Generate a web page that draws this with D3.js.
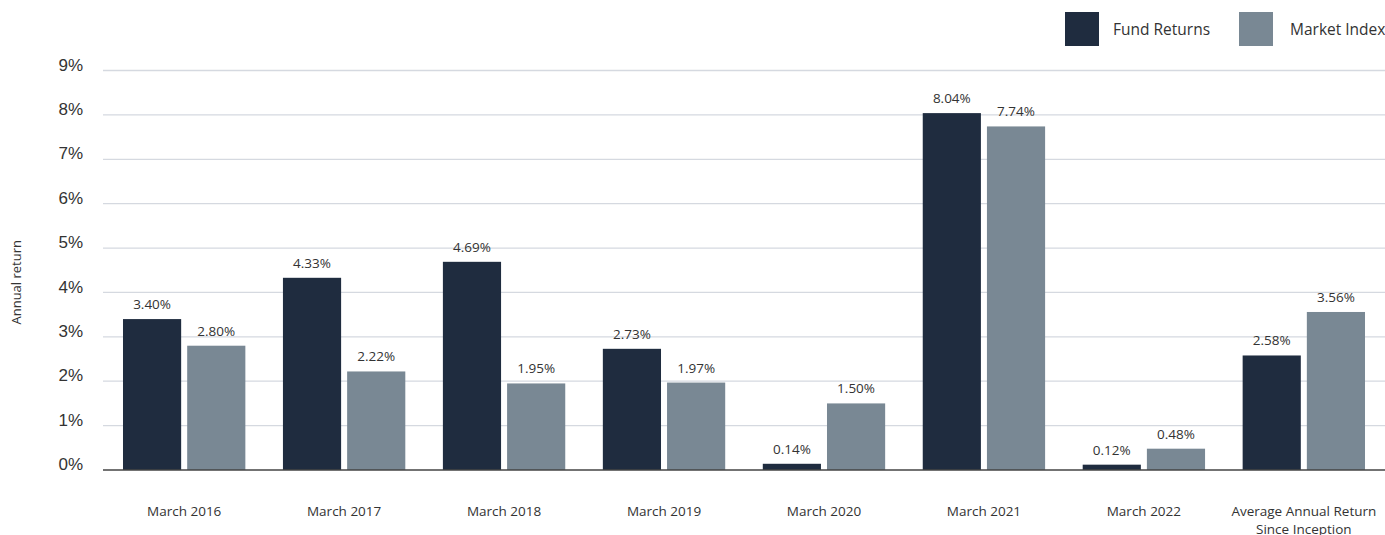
<!DOCTYPE html>
<html>
<head>
<meta charset="utf-8">
<script src="https://cdn.jsdelivr.net/npm/d3@7"></script>
<style>
  html, body { margin: 0; padding: 0; background: #fff; }
  svg { display: block; }
</style>
</head>
<body>
<script>
const categories = ["March 2016", "March 2017", "March 2018", "March 2019", "March 2020", "March 2021", "March 2022", "Average Annual Return|Since Inception"];
const seriesNames = ["Fund Returns", "Market Index"];
const fundReturns = [3.40, 4.33, 4.69, 2.73, 0.14, 8.04, 0.12, 2.58];
const marketIndex = [2.80, 2.22, 1.95, 1.97, 1.50, 7.74, 0.48, 3.56];
const yTicks = [0, 1, 2, 3, 4, 5, 6, 7, 8, 9];

const width = 1385;
const height = 535;
const marginTop = 70.5;
const marginRight = 0;
const marginBottom = 65;
const marginLeft = 103;

const data = categories.map((c, i) => ({ cat: c, values: [fundReturns[i], marketIndex[i]] }));

const x = d3.scaleBand()
    .domain(categories)
    .range([marginLeft, width - marginRight])
    .paddingInner(0.235)
    .paddingOuter(0.125);

const xSub = d3.scaleBand()
    .domain(seriesNames)
    .range([0, x.bandwidth()])
    .paddingInner(0.094);

const y = d3.scaleLinear()
    .domain([0, 9])
    .range([height - marginBottom, marginTop]);

const color = d3.scaleOrdinal()
    .domain(seriesNames)
    .range(["#1f2c3f", "#798894"]);

const svg = d3.create("svg")
    .attr("width", width)
    .attr("height", height)
    .attr("viewBox", `0 0 ${width} ${height}`);

// gridlines
svg.append("g")
    .selectAll("line")
    .data(yTicks.filter(d => d > 0))
    .join("line")
    .attr("x1", marginLeft)
    .attr("x2", width - marginRight)
    .attr("y1", d => y(d))
    .attr("y2", d => y(d))
    .attr("stroke", "#d5d9e0")
    .attr("stroke-width", 1.3);

// y axis labels
const yAxis = svg.append("g")
    .attr("transform", `translate(${marginLeft},0)`)
    .call(d3.axisLeft(y).tickValues(yTicks).tickFormat(d => d + "%").tickSize(0).tickPadding(20));
yAxis.select(".domain").remove();
yAxis.selectAll("text")
    .attr("dy", "-0.02em")
    .attr("font-family", "Liberation Sans, Arial, sans-serif")
    .attr("font-size", 17)
    .attr("fill", "#333");

svg.append("text")
    .attr("transform", `translate(21,${(marginTop + height - marginBottom) / 2 + 12}) rotate(-90)`)
    .attr("text-anchor", "middle")
    .attr("font-family", "Open Sans, sans-serif")
    .attr("font-size", 13)
    .attr("fill", "#333")
    .text("Annual return");

// bars
const groups = svg.append("g")
    .selectAll("g")
    .data(data)
    .join("g")
    .attr("transform", d => `translate(${x(d.cat)},0)`);

groups.selectAll("rect")
    .data(d => d.values.map((v, i) => ({ key: seriesNames[i], value: v })))
    .join("rect")
    .attr("x", d => xSub(d.key))
    .attr("y", d => y(d.value))
    .attr("width", xSub.bandwidth())
    .attr("height", d => y(0) - y(d.value))
    .attr("fill", d => color(d.key));

groups.selectAll("text.val")
    .data(d => d.values.map((v, i) => ({ key: seriesNames[i], value: v })))
    .join("text")
    .attr("class", "val")
    .attr("x", d => xSub(d.key) + xSub.bandwidth() / 2)
    .attr("y", d => y(d.value) - 10)
    .attr("text-anchor", "middle")
    .attr("font-family", "Open Sans, sans-serif")
    .attr("font-size", 13.5)
    .attr("fill", "#333")
    .text(d => d.value.toFixed(2) + "%");

// baseline
svg.append("line")
    .attr("x1", marginLeft)
    .attr("x2", width - marginRight)
    .attr("y1", y(0))
    .attr("y2", y(0))
    .attr("stroke", "#444")
    .attr("stroke-width", 1.5);

// x labels
groups.append("text")
    .attr("x", x.bandwidth() / 2)
    .attr("y", 516)
    .attr("text-anchor", "middle")
    .attr("font-family", "Open Sans, sans-serif")
    .attr("font-size", 13.5)
    .attr("fill", "#333")
    .selectAll("tspan")
    .data(d => d.cat.split("|"))
    .join("tspan")
    .attr("x", x.bandwidth() / 2)
    .attr("dy", (d, i) => i === 0 ? 0 : 18)
    .text(d => d);

// legend
const legend = svg.append("g")
    .selectAll("g")
    .data(seriesNames)
    .join("g")
    .attr("transform", (d, i) => `translate(${[1065, 1239][i]},12)`);

legend.append("rect")
    .attr("width", 34)
    .attr("height", 34)
    .attr("fill", d => color(d));

legend.append("text")
    .attr("x", (d, i) => [48, 51][i])
    .attr("y", 23)
    .attr("font-family", "Open Sans, sans-serif")
    .attr("font-size", 15.5)
    .attr("fill", "#333")
    .text(d => d);

document.body.appendChild(svg.node());
</script>
</body>
</html>
